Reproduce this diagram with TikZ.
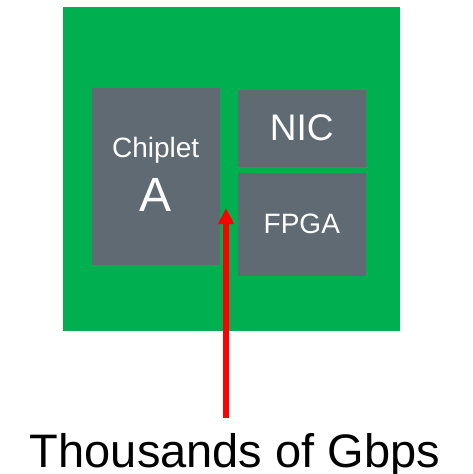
\documentclass[tikz,border=0pt]{standalone}
\usepackage{fontspec}
\setmainfont{Liberation Sans}
\usetikzlibrary{arrows.meta, positioning}
\definecolor{boardgreen}{HTML}{00B050}
\definecolor{chipgrey}{HTML}{5F6A73}

\begin{document}
\begin{tikzpicture}[
			x=1pt, y=-1pt,
			board/.style={rectangle, fill=boardgreen, inner sep=0pt, minimum width=337pt, minimum height=324pt},
			chipbox/.style={rectangle, fill=chipgrey, inner sep=0pt, text=white, align=center},
			link/.style={red, line width=5.5pt, -{Triangle[width=15pt, length=16pt]}}
			]
			\useasboundingbox (0,0) rectangle (472,474);
			
			% package substrate
			\node[board] (package) at (231.5,169) {};
			
			% dies on the package
			\node[chipbox, minimum width=128pt, minimum height=177pt] (chiplet) at (155.8,176.3) {};
			\node[text=white, font=\fontsize{28}{30}\selectfont, anchor=base] (chipname) at (155.7,157.7) {Chiplet};
			\node[text=white, font=\fontsize{48}{50}\selectfont, anchor=base] (chipletter) at (155.2,211.7) {A};
			\node[chipbox, minimum width=128pt, minimum height=77pt, font=\fontsize{37}{40}\selectfont] (nic) at (301.8,128) {NIC};
			\node[chipbox, minimum width=128pt, minimum height=103pt, font=\fontsize{28}{30}\selectfont] (fpga) at (301.8,224.3) {FPGA};
			
			% bandwidth into the package
			\node[font=\fontsize{47}{50}\selectfont, anchor=base] (bw) at (235,467) {Thousands of Gbps};
			\coordinate (src) at (226,418);
			\coordinate (dst) at (226,208);
			\draw[link] (src) -- (dst);
		\end{tikzpicture}
\end{document}
